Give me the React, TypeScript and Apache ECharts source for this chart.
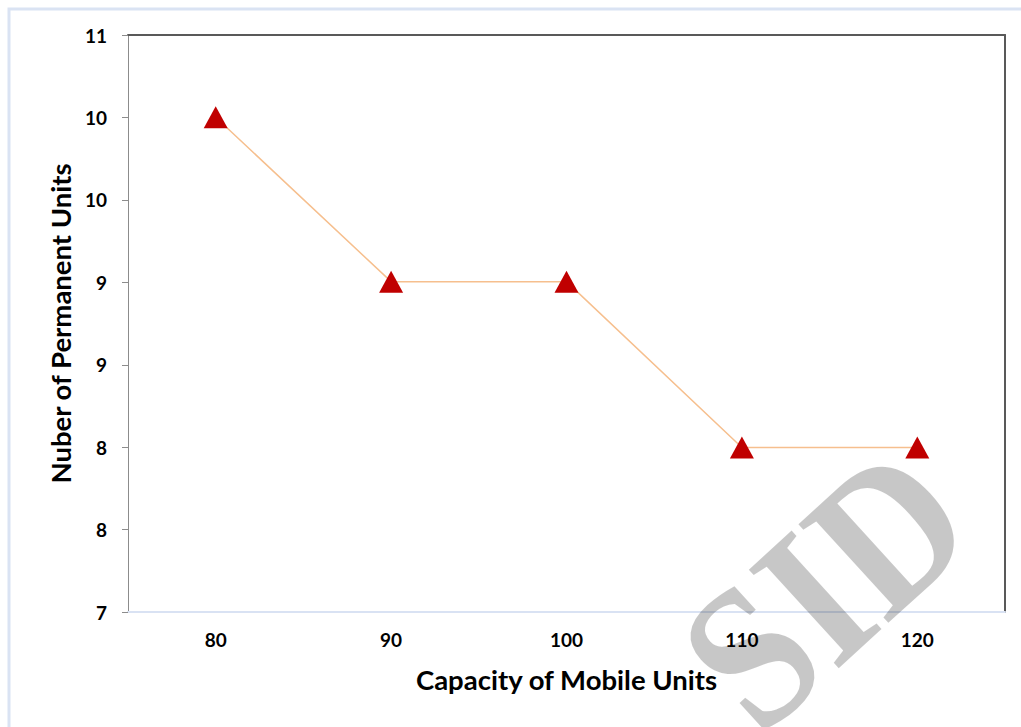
import React, { useEffect, useRef } from "react";
import * as echarts from "echarts";

const categories = ["80", "90", "100", "110", "120"];
const permanentUnits = [10.43, 9.29, 9.29, 8.14, 8.14];
const yTickValues = [7, 7.571, 8.143, 8.714, 9.286, 9.857, 10.429, 11];
const yTickLabels = ["7", "8", "8", "9", "9", "10", "10", "11"];
const xAxisTitle = "Capacity of Mobile Units";
const yAxisTitle = "Nuber of Permanent Units";
const watermark = "SID";

const FONT = "Lato, 'Open Sans', sans-serif";

export default function App() {
  const ref = useRef<HTMLDivElement>(null);
  useEffect(() => {
    if (!ref.current) return;
    const chart = echarts.init(ref.current, undefined, { renderer: "svg" });
    const labelFor = (v: number) => {
      const i = yTickValues.findIndex((t) => Math.abs(t - v) < 1e-6);
      return i >= 0 ? yTickLabels[i] : "";
    };
    chart.setOption({
      animation: false,
      backgroundColor: "#ffffff",
      grid: { left: 128, right: 16, top: 35, bottom: 115, containLabel: false },
      xAxis: [
        {
          type: "category",
          data: categories,
          boundaryGap: true,
          axisLine: { show: true, lineStyle: { color: "#d9e2f3", width: 2 } },
          axisTick: { show: false },
          axisLabel: {
            color: "#000",
            fontFamily: FONT,
            fontWeight: "bold",
            fontSize: 19,
            margin: 18,
          },
          name: xAxisTitle,
          nameLocation: "middle",
          nameGap: 53,
          nameTextStyle: { color: "#000", fontFamily: FONT, fontWeight: "bold", fontSize: 27.5 },
          splitLine: { show: false },
        },
        {
          type: "category",
          data: categories,
          position: "top",
          axisLine: { show: true, lineStyle: { color: "#595959", width: 2 } },
          axisTick: { show: false },
          axisLabel: { show: false },
          splitLine: { show: false },
        },
      ],
      yAxis: [
        {
          type: "value",
          min: 7,
          max: 11,
          axisLine: { show: true, lineStyle: { color: "#8c8c8c", width: 1 } },
          axisTick: {
            show: true,
            inside: false,
            length: 6,
            lineStyle: { color: "#8c8c8c" },
            customValues: yTickValues,
          },
          axisLabel: {
            color: "#000",
            fontFamily: FONT,
            fontWeight: "bold",
            fontSize: 19,
            margin: 21,
            customValues: yTickValues,
            formatter: (v: number) => labelFor(v),
          },
          splitLine: { show: false },
          name: yAxisTitle,
          nameLocation: "middle",
          nameGap: 53,
          nameRotate: 90,
          nameTextStyle: { color: "#000", fontFamily: FONT, fontWeight: "bold", fontSize: 27.5 },
        },
        {
          type: "value",
          min: 7,
          max: 11,
          position: "right",
          axisLine: { show: true, lineStyle: { color: "#595959", width: 2 } },
          axisTick: { show: false },
          axisLabel: { show: false },
          splitLine: { show: false },
        },
      ],
      series: [
        {
          type: "line",
          data: permanentUnits,
          xAxisIndex: 0,
          yAxisIndex: 0,
          symbol: "triangle",
          symbolSize: [24, 22],
          itemStyle: { color: "#c00000" },
          lineStyle: { color: "#f6bf8e", width: 1.5 },
          z: 3,
        },
      ],
      graphic: [
        {
          type: "rect",
          shape: { x: 9, y: 9, width: 1040, height: 740 },
          style: { fill: "none", stroke: "#dae3f3", lineWidth: 3 },
          silent: true,
          z: 0,
        },
        {
          type: "text",
          x: 825,
          y: 588,
          rotation: 0.74,
          scaleX: 0.92,
          scaleY: 1.04,
          style: {
            text: watermark,
            fontFamily: "'Liberation Serif', serif",
            fontWeight: "bold",
            fontSize: 196,
            fill: "rgba(0,0,0,0.22)",
            textAlign: "center",
            textVerticalAlign: "middle",
          },
          silent: true,
          z: 100,
        },
      ],
    });
    return () => chart.dispose();
  }, []);
  return (
    <div
      ref={ref}
      style={{ position: "fixed", left: 0, top: 0, width: 1021, height: 727 }}
    />
  );
}
